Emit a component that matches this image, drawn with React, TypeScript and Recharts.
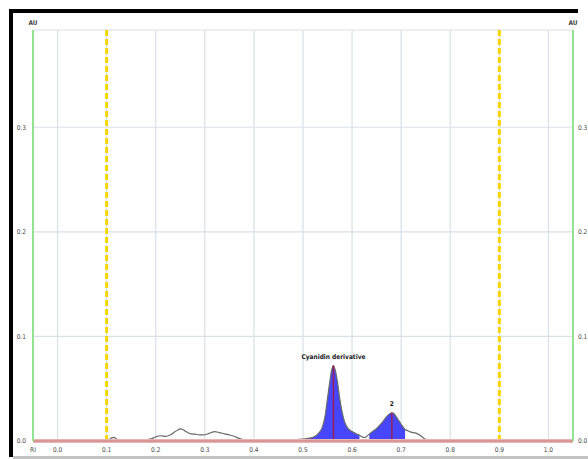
import {
  Area,
  CartesianGrid,
  ComposedChart,
  Line,
  ReferenceDot,
  ReferenceLine,
  XAxis,
  YAxis,
} from "recharts";

// retention index (RI) and absorbance (AU) of the trace
const ri = [
  0.1, 0.105, 0.11, 0.115, 0.12, 0.125, 0.13, 0.14, 0.15, 0.16, 0.17, 0.18, 0.19, 0.2,
  0.21, 0.22, 0.23, 0.24, 0.25, 0.255, 0.26, 0.27, 0.28, 0.29, 0.3, 0.31, 0.32, 0.33,
  0.34, 0.35, 0.36, 0.37, 0.38, 0.39, 0.4, 0.41, 0.42, 0.43, 0.44, 0.45, 0.46, 0.47,
  0.48, 0.49, 0.5, 0.51, 0.52, 0.53, 0.54, 0.545, 0.55, 0.555, 0.558, 0.562, 0.566,
  0.57, 0.575, 0.58, 0.585, 0.59, 0.6, 0.61, 0.615, 0.62, 0.625, 0.63, 0.635, 0.64,
  0.65, 0.66, 0.67, 0.676, 0.681, 0.686, 0.69, 0.7, 0.708, 0.715, 0.72, 0.73, 0.74,
  0.745, 0.75, 0.76, 0.78, 0.8, 0.82, 0.84, 0.85, 0.86, 0.88, 0.9,
];
const au = [
  0.0, 0.001, 0.003, 0.0035, 0.002, 0.0008, 0.001, 0.0005, 0.001, 0.0006, 0.001, 0.0012,
  0.002, 0.004, 0.005, 0.0045, 0.006, 0.009, 0.0115, 0.011, 0.0095, 0.007, 0.0065, 0.0058,
  0.006, 0.0075, 0.009, 0.008, 0.0068, 0.0058, 0.0045, 0.0025, 0.0012, 0.0004, 0.0006,
  0.0002, 0.0008, 0.0003, 0.0009, 0.0004, 0.001, 0.0006, 0.0012, 0.0015, 0.0018, 0.0025,
  0.0035, 0.0065, 0.014, 0.024, 0.041, 0.058, 0.067, 0.072, 0.067, 0.057, 0.04, 0.027,
  0.018, 0.013, 0.009, 0.0065, 0.0055, 0.004, 0.0032, 0.0045, 0.0065, 0.0085, 0.012,
  0.017, 0.023, 0.0258, 0.027, 0.0258, 0.023, 0.016, 0.011, 0.0095, 0.0085, 0.0075, 0.005,
  0.003, 0.0015, 0.0008, 0.0004, 0.0009, 0.0005, 0.0012, 0.0008, 0.0011, 0.0005, 0.0008,
];

// integrated peaks
const peakNames = ["Cyanidin derivative", "2"];
const peakApexRI = [0.562, 0.681];
const peakApexAU = [0.072, 0.027];
const peakStart = [0.5, 0.635];
const peakEnd = [0.615, 0.708];

const xTicks = [-0.05, 0.0, 0.1, 0.2, 0.3, 0.4, 0.5, 0.6, 0.7, 0.8, 0.9, 1.0];
const yTicks = [0, 0.1, 0.2, 0.3];
const windowLines = [0.1, 0.9];

const data = ri.map((x, i) => {
  const row: Record<string, number | null> = { ri: x, au: au[i] };
  peakStart.forEach((s, p) => {
    row["peak" + p] = x >= s && x <= peakEnd[p] ? au[i] : null;
  });
  return row;
});

const FONT = "'DejaVu Sans Condensed', 'Liberation Sans Narrow', sans-serif";
const tickStyle = { fill: "#484848", fontSize: 6.5, fontFamily: FONT };
const GREEN = "#93e393";

export default function App() {
  return (
    <div style={{ position: "absolute", left: 0, top: 0, width: 588, height: 459, background: "#fff" }}>
      <div style={{ position: "absolute", left: 9, top: 9, width: 569, height: 4, background: "#000" }} />
      <div style={{ position: "absolute", left: 9, top: 9, width: 4, height: 448, background: "#000" }} />
      <div style={{ position: "absolute", left: 13, top: 456, width: 575, height: 3, background: "#c4c4c4" }} />
      <div style={{ position: "absolute", left: 0, top: 0 }}>
        <ComposedChart width={588} height={459} data={data} margin={{ top: 30, right: 0, left: 0, bottom: 0 }}>
          <CartesianGrid yAxisId="left" stroke="#d8e0e7" strokeWidth={1.2} />
          <XAxis
            dataKey="ri"
            type="number"
            domain={[-0.05, 1.05]}
            ticks={xTicks}
            tickFormatter={(v: number) => (v < 0 ? "RI" : v.toFixed(1))}
            tick={tickStyle}
            axisLine={false}
            tickLine={false}
            tickSize={0}
            tickMargin={6}
            height={18}
            interval={0}
          />
          <YAxis
            yAxisId="left"
            domain={[0, 0.393]}
            ticks={yTicks}
            tickFormatter={(v: number) => v.toFixed(1)}
            tick={tickStyle}
            axisLine={false}
            tickLine={false}
            tickSize={0}
            tickMargin={7}
            width={33}
            allowDataOverflow
          />
          <YAxis
            yAxisId="right"
            orientation="right"
            domain={[0, 0.393]}
            ticks={yTicks}
            tickFormatter={(v: number) => v.toFixed(1)}
            tick={tickStyle}
            axisLine={false}
            tickLine={false}
            tickSize={0}
            tickMargin={5}
            width={15}
            allowDataOverflow
          />
          {peakStart.map((_, p) => (
            <Area
              key={"peak" + p}
              yAxisId="left"
              dataKey={"peak" + p}
              type="monotone"
              fill="#4646ff"
              fillOpacity={1}
              stroke="none"
              connectNulls={false}
              isAnimationActive={false}
            />
          ))}
          <Line
            yAxisId="left"
            dataKey="au"
            type="monotone"
            stroke="#6a6a6a"
            strokeWidth={1.2}
            dot={false}
            isAnimationActive={false}
          />
          {peakApexRI.map((x, p) => (
            <ReferenceLine
              key={"apex" + p}
              yAxisId="left"
              segment={[
                { x, y: 0 },
                { x, y: peakApexAU[p] },
              ]}
              stroke="#9b1f55"
              strokeWidth={1.5}
            />
          ))}
          {windowLines.map((x) => (
            <ReferenceLine
              key={"w" + x}
              yAxisId="left"
              x={x}
              stroke="#f7d500"
              strokeWidth={3}
              strokeDasharray="6 3"
            />
          ))}
          <ReferenceLine yAxisId="left" y={0} stroke="#e8b4b4" strokeWidth={4} />
          <ReferenceLine yAxisId="left" y={0} stroke="#c87878" strokeWidth={1} />
          <ReferenceLine
            yAxisId="left"
            x={-0.05}
            stroke={GREEN}
            strokeWidth={2}
            label={{ value: "AU", position: "top", offset: 5, ...tickStyle, fontWeight: 600 }}
          />
          <ReferenceLine
            yAxisId="left"
            x={1.05}
            stroke={GREEN}
            strokeWidth={2}
            label={{ value: "AU", position: "top", offset: 5, ...tickStyle, fontWeight: 600 }}
          />
          {peakNames.map((name, p) => (
            <ReferenceDot
              key={name}
              yAxisId="left"
              x={peakApexRI[p]}
              y={peakApexAU[p]}
              r={0}
              fill="none"
              stroke="none"
              label={{
                value: name,
                position: "top",
                offset: 7,
                fill: "#1a1a1a",
                fontSize: 6.5,
                fontWeight: 600,
                fontFamily: FONT,
              }}
            />
          ))}
        </ComposedChart>
      </div>
    </div>
  );
}
